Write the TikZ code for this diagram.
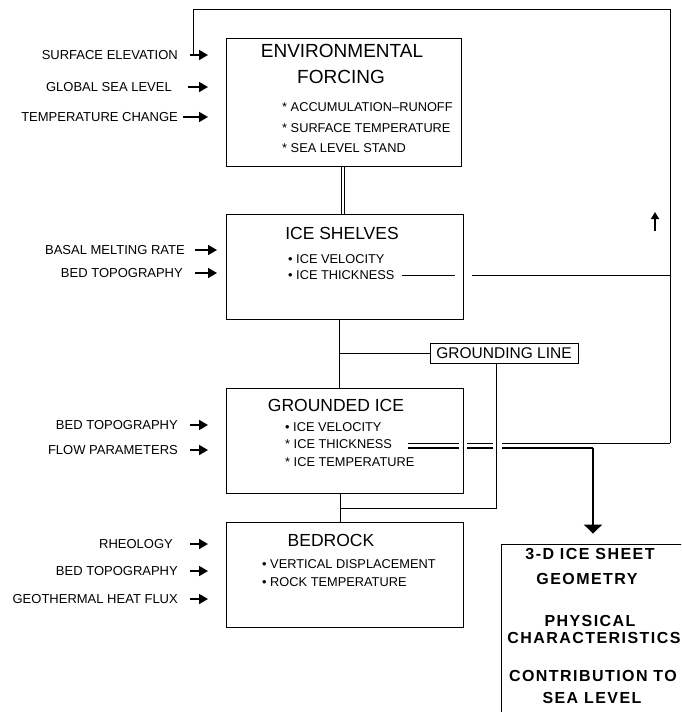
\documentclass[tikz,border=0pt]{standalone}
\usepackage{fontspec}
\setmainfont{Liberation Sans}
\usetikzlibrary{arrows.meta}
\begin{document}
\begin{tikzpicture}[x=1pt,y=-1pt,
  box/.style={draw, line width=0.8pt, rectangle, inner sep=0pt},
  ttl/.style={font=\fontsize{17.5}{20}\selectfont, inner sep=0pt},
  item/.style={font=\fontsize{12.8}{14}\selectfont, inner sep=0pt, anchor=west},
  inlab/.style={font=\fontsize{13}{15}\selectfont, inner sep=0pt, anchor=east},
  inarr/.style={line width=1.7pt, -{Triangle[length=9pt,width=10pt]}},
  conn/.style={line width=0.8pt},
  thk/.style={line width=1.5pt},
  outarr/.style={line width=1.8pt, -{Triangle[length=9pt,width=18pt]}},
  outtxt/.style={font=\bfseries\fontsize{16}{19}\selectfont\addfontfeatures{LetterSpace=9}, inner sep=0pt}
]
\useasboundingbox (0,0) rectangle (681,712);
\clip (0,0) rectangle (681,712);

% boxes
\node[box, minimum width=235pt, minimum height=128pt] (env) at (343.5,102) {};
\node[box, minimum width=237pt, minimum height=105pt] (shel) at (344.5,266.5) {};
\node[box, minimum width=237pt, minimum height=105pt] (grnd) at (344.5,440.5) {};
\node[box, minimum width=237pt, minimum height=105pt] (bed) at (344.5,574.5) {};
\node[box, minimum width=148pt, minimum height=20pt, font=\fontsize{15.5}{18}\selectfont] (gl) at (504,353) {GROUNDING LINE};
\node[box, minimum width=240pt, minimum height=240pt] (geo) at (621,664) {};

% titles and items
\node[ttl, font=\fontsize{19}{22}\selectfont] (envt1) at (342,51) {ENVIRONMENTAL};
\node[ttl, font=\fontsize{19}{22}\selectfont] (envt2) at (341,77) {FORCING};
\node[item] (e1) at (282,107) {* ACCUMULATION--RUNOFF};
\node[item] (e2) at (282,128) {* SURFACE TEMPERATURE};
\node[item] (e3) at (282,148) {* SEA LEVEL STAND};

\node[ttl] (st) at (342,233) {ICE SHELVES};
\node[item] (s1) at (288,259) {\textbullet\ ICE VELOCITY};
\node[item] (s2) at (288,275) {\textbullet\ ICE THICKNESS};

\node[ttl] (gt) at (336,405) {GROUNDED ICE};
\node[item] (g1) at (285,427) {\textbullet\ ICE VELOCITY};
\node[item] (g2) at (285,444) {* ICE THICKNESS};
\node[item] (g3) at (285,462) {* ICE TEMPERATURE};

\node[ttl] (bt) at (331,540) {BEDROCK};
\node[item] (b1) at (262,564) {\textbullet\ VERTICAL DISPLACEMENT};
\node[item] (b2) at (262,582) {\textbullet\ ROCK TEMPERATURE};

\node[outtxt] (o1) at (590,554) {3-D ICE SHEET};
\node[outtxt] (o2) at (587,579) {GEOMETRY};
\node[outtxt] (o3) at (590,621) {PHYSICAL};
\node[outtxt] (o4) at (594,637.5) {CHARACTERISTICS};
\node[outtxt] (o5) at (593,676) {CONTRIBUTION TO};
\node[outtxt] (o6) at (592,698) {SEA LEVEL};

% input labels
\node[inlab] (i1) at (178,55) {SURFACE ELEVATION};
\node[inlab] (i2) at (172,87) {GLOBAL SEA LEVEL};
\node[inlab] (i3) at (178,117) {TEMPERATURE CHANGE};
\node[inlab] (i4) at (185,250) {BASAL MELTING RATE};
\node[inlab] (i5) at (183,273) {BED TOPOGRAPHY};
\node[inlab] (i6) at (178,425) {BED TOPOGRAPHY};
\node[inlab] (i7) at (178,450) {FLOW PARAMETERS};
\node[inlab] (i8) at (173,544) {RHEOLOGY};
\node[inlab] (i9) at (178,571) {BED TOPOGRAPHY};
\node[inlab] (i10) at (178,599) {GEOTHERMAL HEAT FLUX};

\coordinate (ax) at (208,0);
\coordinate (ay) at (217,0);
\draw[inarr] ([xshift=12pt]i1.east) -- (i1 -| ax);
\draw[inarr] ([xshift=16pt]i2.east) -- (i2 -| ax);
\draw[inarr] ([xshift=5pt]i3.east) -- (i3 -| ax);
\draw[inarr] ([xshift=10pt]i4.east) -- (i4 -| ay);
\draw[inarr] ([xshift=12pt]i5.east) -- (i5 -| ay);
\draw[inarr] ([xshift=12pt]i6.east) -- (i6 -| ax);
\draw[inarr] ([xshift=12pt]i7.east) -- (i7 -| ax);
\draw[inarr] ([xshift=17pt]i8.east) -- (i8 -| ax);
\draw[inarr] ([xshift=12pt]i9.east) -- (i9 -| ax);
\draw[inarr] ([xshift=12pt]i10.east) -- (i10 -| ax);

% feedback loop
\coordinate (rc) at (670,443);
\coordinate (tr) at (670,9);
\coordinate (tl) at (193,9);
\coordinate (tlj) at (193,55);
\draw[conn] (rc) -- (tr) -- (tl) -- (tlj);
\coordinate (ua1) at (655,231);
\coordinate (ua2) at (655,212);
\draw[line width=1.5pt, -{Triangle[length=7pt,width=8pt]}] (ua1) -- (ua2);

% vertical chain
\draw[conn] ([xshift=-2.5pt]env.south) -- ([xshift=-3.5pt]shel.north);
\draw[conn] ([xshift=0.5pt]env.south) -- ([xshift=-0.5pt]shel.north);
\draw[conn] ([xshift=-5.5pt]shel.south) -- ([xshift=-5.5pt]grnd.north);
\coordinate (bj) at (339,353);
\draw[conn] (bj) -- (gl.west);
\coordinate (gd) at (496,508);
\coordinate (gj) at (340,508);
\draw[conn] ([xshift=-8pt]gl.south) -- (gd) -- (gj);
\draw[conn] ([xshift=-4.5pt]grnd.south) -- ([xshift=-4.5pt]bed.north);

% ice shelves thickness line
\coordinate (sa) at (455,275);
\coordinate (sb) at (472,275);
\coordinate (sr) at (670,275);
\draw[conn] ([xshift=7pt]s2.east) -- (sa);
\draw[conn] (sb) -- (sr);

% grounded ice thickness double line
\coordinate (u1) at (408,443); \coordinate (u2) at (459,443);
\coordinate (u3) at (467,443); \coordinate (u4) at (493,443);
\coordinate (u5) at (502,443);
\draw[conn] (u1) -- (u2);
\draw[conn] (u3) -- (u4);
\draw[conn] (u5) -- (rc);
\coordinate (l1) at (408,448); \coordinate (l2) at (459,448);
\coordinate (l3) at (467,448); \coordinate (l4) at (493,448);
\coordinate (l5) at (502,448); \coordinate (dj) at (593,448);
\draw[thk] (l1) -- (l2);
\draw[thk] (l3) -- (l4);
\draw[thk] (l5) -- (dj);
\draw[outarr, shorten >=10pt] (dj) -- (dj |- geo.north);
\end{tikzpicture}
\end{document}
